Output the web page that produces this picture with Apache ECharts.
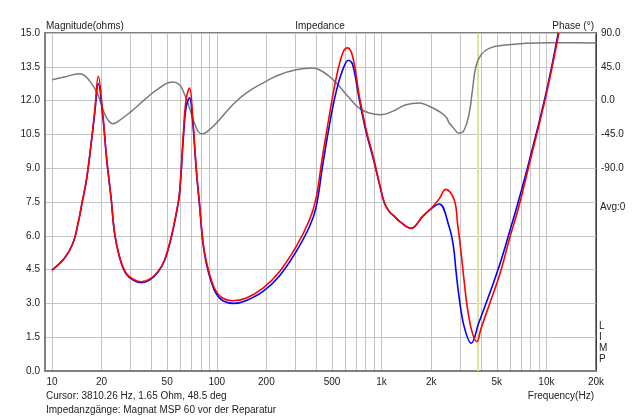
<!DOCTYPE html>
<html><head><meta charset="utf-8">
<script src="https://cdn.jsdelivr.net/npm/echarts@6/dist/echarts.min.js"></script>
<style>html,body{margin:0;padding:0;background:#fff}#c{width:640px;height:418px}</style>
</head><body><div id="c"></div>
<script>
// ---- data ----
const redFreq = [10, 11.9, 13.4, 14.4, 15.3, 16.2, 17.3, 18.2, 19.1, 20.4, 21.4, 22.4, 22.9, 24.0, 25.7, 28.2, 31.7, 34.8, 39.1, 43.9, 48.2, 52.9, 56.7, 59.4, 62.5, 65.1, 68.3, 71.6, 74.4, 76.7, 78.4, 82.2, 86, 92.6, 99.3, 108.8, 125, 150, 190, 240, 303, 365, 400, 438, 481, 528, 581, 621, 667, 733, 806, 888, 970, 1040, 1120, 1200, 1290, 1510, 1770, 2040, 2240, 2450, 2760, 2890, 3040, 3180, 3330, 3560, 3790, 4000, 4530, 5240, 5940, 6800, 7900, 10000, 11900];
const redZ = [4.48, 5.0, 5.67, 6.55, 7.55, 8.49, 10.12, 11.6, 13.08, 11.3, 9.53, 8.2, 7.59, 6.1, 5.07, 4.34, 4.04, 3.96, 4.07, 4.41, 4.93, 5.96, 7.0, 7.9, 10.4, 12.04, 12.56, 11.15, 9.38, 8.2, 7.5, 5.81, 4.93, 4.04, 3.52, 3.23, 3.12, 3.23, 3.67, 4.41, 5.52, 6.7, 7.65, 9.53, 11.3, 12.93, 14.11, 14.34, 13.97, 12.19, 10.71, 9.53, 8.34, 7.46, 7.05, 6.85, 6.63, 6.33, 6.85, 7.29, 7.65, 8.06, 7.59, 6.55, 5.22, 3.89, 2.71, 1.67, 1.3, 1.85, 3.0, 4.34, 5.81, 7.29, 9.22, 12.3, 15.0];
const blueFreq = [10, 11.9, 13.4, 14.4, 15.3, 16.2, 17.3, 18.2, 19.1, 20.4, 21.4, 22.4, 22.9, 24.0, 25.7, 28.2, 31.7, 34.8, 39.1, 43.9, 48.2, 52.9, 56.7, 59.4, 62.5, 65.1, 68.3, 71.6, 74.4, 76.7, 78.4, 82.2, 86, 92.6, 99.3, 108.8, 127, 150, 190, 240, 303, 365, 400, 438, 481, 528, 581, 630, 667, 733, 806, 888, 970, 1040, 1120, 1200, 1290, 1510, 1770, 2040, 2240, 2570, 2730, 2825, 2950, 3170, 3500, 3880, 4530, 5240, 5940, 6800, 7900, 10000, 11800];
const blueZ = [4.48, 5.0, 5.67, 6.55, 7.55, 8.49, 10.1, 11.5, 12.75, 11.2, 9.5, 8.2, 7.59, 6.1, 5.05, 4.3, 4.0, 3.92, 4.03, 4.38, 4.9, 5.92, 6.95, 7.85, 10.2, 11.7, 12.12, 10.95, 9.3, 8.15, 7.45, 5.75, 4.85, 3.95, 3.42, 3.12, 3.0, 3.12, 3.52, 4.22, 5.3, 6.4, 7.25, 9.08, 10.86, 12.34, 13.37, 13.79, 13.6, 12.04, 10.6, 9.45, 8.3, 7.46, 7.05, 6.85, 6.63, 6.33, 6.85, 7.25, 7.41, 6.4, 5.52, 4.48, 3.3, 1.97, 1.23, 2.12, 3.45, 4.78, 6.11, 7.59, 9.37, 12.4, 15.0];
const phaseFreq = [10, 11.9, 14.7, 15.8, 17.3, 19.0, 20.4, 21.9, 23.4, 25.7, 30.3, 36.5, 43.9, 54.1, 59.4, 63.5, 68.3, 73.2, 78.6, 82.3, 90.3, 103.8, 125, 150.7, 199, 240, 303, 382, 419, 482, 554, 637, 732, 842, 992, 1166, 1406, 1692, 1945, 2237, 2455, 2572, 2693, 2958, 3170, 3400, 3560, 3733, 4004, 4495, 5675, 7500, 10380, 14380, 20000];
const phaseDeg = [27.8, 31.4, 35.8, 33.2, 23.4, 7.9, -12.1, -26.2, -30.7, -26.2, -14.3, 1.2, 15.4, 24.8, 21.2, 9.0, -9.9, -29.8, -43.1, -44.0, -38.7, -25.4, -5.4, 10.1, 25.7, 34.5, 41.1, 43.4, 41.1, 32.3, 19.0, 3.5, -9.9, -16.5, -18.7, -14.3, -5.4, -3.2, -7.6, -14.5, -21.4, -29.8, -34.8, -43.5, -39.1, -16.9, 14.1, 45.1, 60.7, 69.6, 74.0, 76.3, 77.1, 77.1, 76.7];
const gridFreqs = [10,20,30,40,50,60,70,80,90,100,200,300,400,500,600,700,800,900,1000,2000,3000,4000,5000,6000,7000,8000,9000,10000,20000];
const xTickLabels = [10,20,50,100,200,500,1000,2000,5000,10000,20000];
const cursorFreq = 3810.26;

const FONT = '"Liberation Sans", Arial, sans-serif';
const TXT = '#222';
const pairs = (fs, vs) => fs.map((f, i) => [f, vs[i]]);

const chart = echarts.init(document.getElementById('c'));
const txt = (x, y, text, align) => ({
  type: 'text', silent: true,
  style: { x: x, y: y, text: text, align: align || 'left', verticalAlign: 'middle', font: '10px ' + FONT, fill: TXT }
});
chart.setOption({
  animation: false,
  grid: { left: 45, right: 44, top: 33, bottom: 47, show: true, borderColor: '#808080', borderWidth: 2 },
  xAxis: {
    type: 'log', logBase: 10, min: 9.07, max: 20000,
    axisLine: { show: true, onZero: false, lineStyle: { color: '#808080', width: 2 } },
    axisTick: { show: false, customValues: gridFreqs },
    axisLabel: { customValues: xTickLabels, formatter: v => v >= 1000 ? (v / 1000) + 'k' : String(v), color: TXT, fontSize: 10, fontFamily: FONT, margin: 6 },
    splitLine: { show: true, lineStyle: { color: '#c4c4c4', width: 1 } }
  },
  yAxis: [
    { type: 'value', min: 0, max: 15, interval: 1.5, position: 'left',
      axisLine: { show: true, lineStyle: { color: '#808080', width: 2 } },
      axisTick: { show: false },
      axisLabel: { formatter: v => v.toFixed(1), color: TXT, fontSize: 10, fontFamily: FONT, margin: 5 },
      splitLine: { show: true, lineStyle: { color: '#c4c4c4', width: 1 } } },
    { type: 'value', min: -360, max: 90, interval: 45, position: 'right',
      axisLine: { show: true, lineStyle: { color: '#404040', width: 1 } },
      axisTick: { show: false },
      axisLabel: { formatter: v => v >= -90 ? v.toFixed(1) : '', color: TXT, fontSize: 10, fontFamily: FONT, margin: 5 },
      splitLine: { show: false } }
  ],
  series: [
    { name: 'Phase', type: 'line', yAxisIndex: 1, data: pairs(phaseFreq, phaseDeg), showSymbol: false, smooth: 0.45,
      lineStyle: { color: '#7a7a7a', width: 1.5 }, z: 2,
      markLine: { silent: true, z: 1, symbol: 'none', label: { show: false },
        lineStyle: { color: '#e2e29a', width: 2, type: 'solid' }, data: [{ xAxis: cursorFreq }] } },
    { name: 'Blue', type: 'line', yAxisIndex: 0, data: pairs(blueFreq, blueZ), showSymbol: false, smooth: 0.4,
      lineStyle: { color: '#0000ff', width: 1.6 }, z: 3 },
    { name: 'Red', type: 'line', yAxisIndex: 0, data: pairs(redFreq, redZ), showSymbol: false, smooth: 0.4,
      lineStyle: { color: '#ff0000', width: 1.6 }, z: 4 }
  ],
  graphic: [
    txt(46, 26, 'Magnitude(ohms)'),
    txt(320, 26, 'Impedance', 'center'),
    txt(594, 26, 'Phase (°)', 'right'),
    txt(600, 207, 'Avg:0'),
    { type: 'text', silent: true, style: { x: 599, y: 321, text: 'L\nI\nM\nP', align: 'left', verticalAlign: 'top', lineHeight: 11, font: '10px ' + FONT, fill: TXT } },
    txt(46, 396, 'Cursor: 3810.26 Hz, 1.65 Ohm, 48.5 deg'),
    txt(594, 396, 'Frequency(Hz)', 'right'),
    txt(46, 410, 'Impedanzgänge: Magnat MSP 60 vor der Reparatur')
  ]
});
</script>
</body></html>
